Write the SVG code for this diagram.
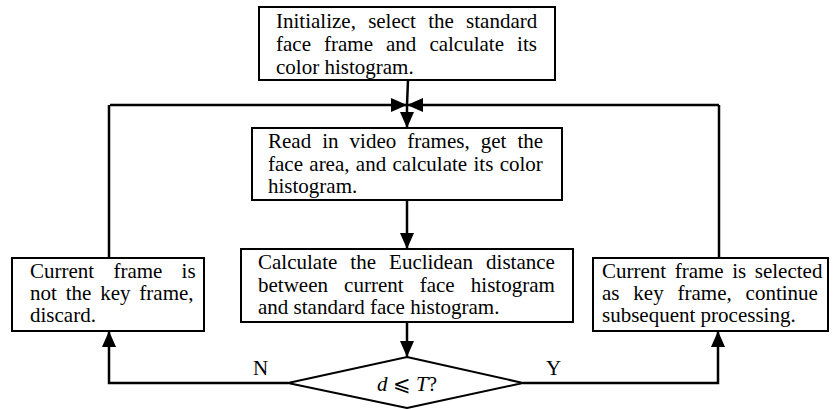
<svg xmlns="http://www.w3.org/2000/svg" width="833" height="409" viewBox="0 0 833 409">
<style>
.box{fill:#fff;stroke:#000;stroke-width:2}
.t{font-family:"Liberation Serif","Times New Roman",serif;font-size:21px;fill:#000}
.ln{fill:none;stroke:#000;stroke-width:2.5}
</style>
<defs>
<marker id="ah" viewBox="0 0 16 14" refX="16" refY="7" markerWidth="16" markerHeight="14" markerUnits="userSpaceOnUse" orient="auto">
<path d="M0,0 L16,7 L0,14 Z" fill="#000"/>
</marker>
</defs>
<g id="connectors">
<line class="ln" x1="408" y1="80" x2="407" y2="105"/>
<line class="ln" x1="110" y1="105" x2="407" y2="105" marker-end="url(#ah)"/>
<line class="ln" x1="719" y1="105" x2="407" y2="105" marker-end="url(#ah)"/>
<line class="ln" x1="407" y1="105" x2="407" y2="128" marker-end="url(#ah)"/>
<line class="ln" x1="407" y1="200" x2="407" y2="249" marker-end="url(#ah)"/>
<line class="ln" x1="407" y1="322" x2="407" y2="357" marker-end="url(#ah)"/>
<polyline class="ln" points="288,383 109,383 109,331" marker-end="url(#ah)"/>
<polyline class="ln" points="523,383 718,383 718,331" marker-end="url(#ah)"/>
<polyline class="ln" points="109,258 109,105"/>
<polyline class="ln" points="719,258 719,105"/>
<text class="t" x="253" y="375">N</text>
<text class="t" x="546" y="375">Y</text>
</g>
<g id="n1">
<rect class="box" x="259" y="7" width="296" height="73"/>
<text class="t" x="276" y="28" word-spacing="7">Initialize, select the standard</text>
<text class="t" x="276" y="51" word-spacing="7.8">face frame and calculate its</text>
<text class="t" x="276" y="74">color histogram.</text>
</g>
<g id="n2">
<rect class="box" x="252" y="128" width="310" height="72"/>
<text class="t" x="268" y="148" word-spacing="5.8">Read in video frames, get the</text>
<text class="t" x="268" y="171" word-spacing="1.1">face area, and calculate its color</text>
<text class="t" x="268" y="193">histogram.</text>
</g>
<g id="n3">
<rect class="box" x="241" y="249" width="332" height="73"/>
<text class="t" x="258" y="269" word-spacing="7.8">Calculate the Euclidean distance</text>
<text class="t" x="258" y="292" word-spacing="10.9">between current face histogram</text>
<text class="t" x="258" y="314">and standard face histogram.</text>
</g>
<g id="n4">
<rect class="box" x="12" y="258" width="192" height="73"/>
<text class="t" x="30" y="278" word-spacing="14">Current frame is</text>
<text class="t" x="30" y="300" word-spacing="3.6">not the key frame,</text>
<text class="t" x="30" y="322">discard.</text>
</g>
<g id="n5">
<rect class="box" x="593" y="258" width="235" height="73"/>
<text class="t" x="602" y="278" word-spacing="3.3">Current frame is selected</text>
<text class="t" x="602" y="300" word-spacing="8.6">as key frame, continue</text>
<text class="t" x="602" y="322">subsequent processing.</text>
</g>
<g id="n6">
<polygon class="box" points="407,357 523,383 407,408 288,383"/>
<text class="t" x="407" y="391" text-anchor="middle"><tspan font-style="italic">d</tspan> ⩽ <tspan font-style="italic">T</tspan>?</text>
</g>
</svg>
